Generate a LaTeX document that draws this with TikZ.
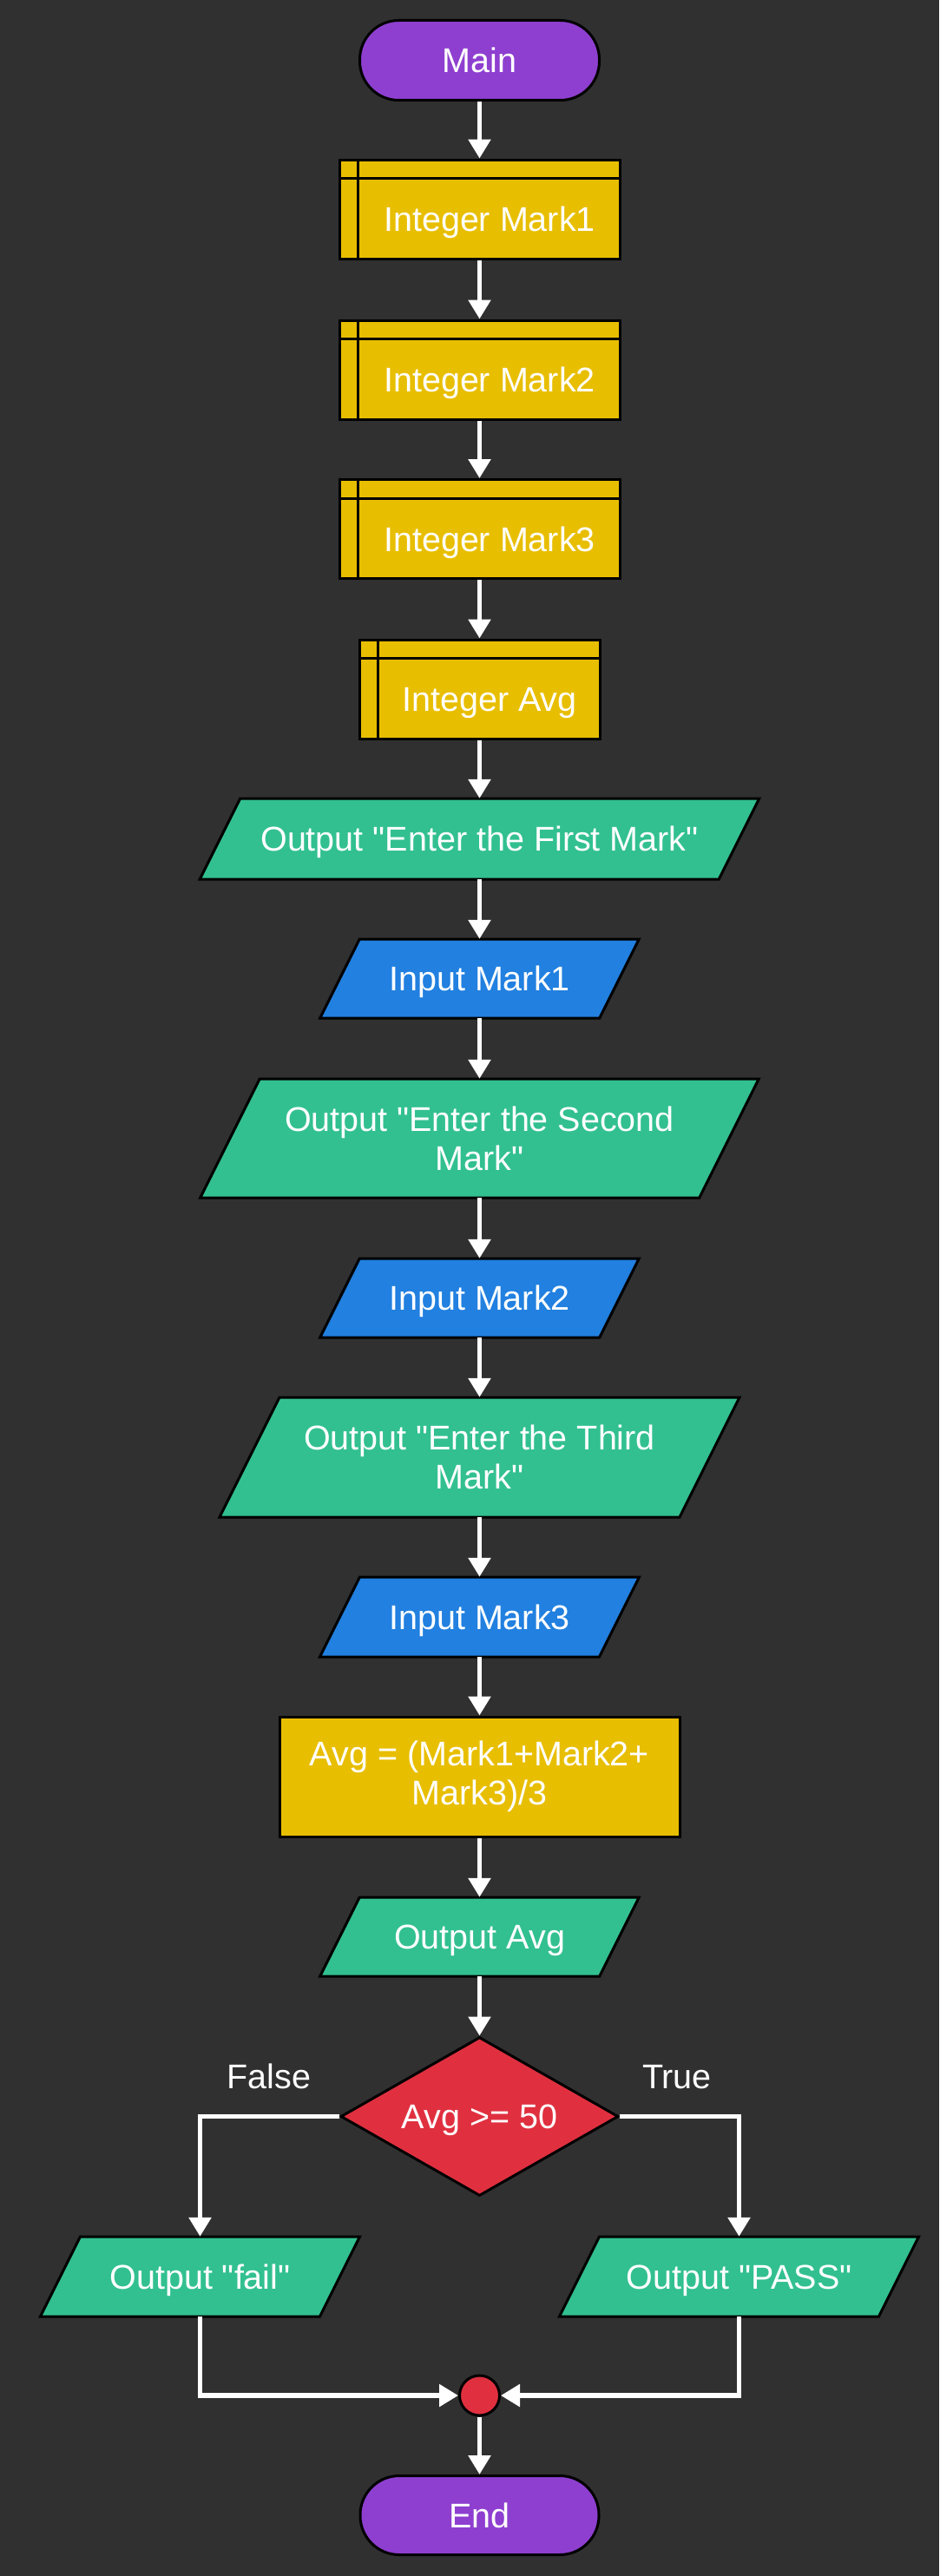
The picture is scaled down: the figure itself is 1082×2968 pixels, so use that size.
\documentclass[tikz,border=0pt]{standalone}
\usepackage{fontspec}
\setmainfont{Liberation Sans}[Ligatures=TeXOff]
\usetikzlibrary{arrows.meta,shapes.geometric}
\definecolor{bgc}{RGB}{48,48,48}
\definecolor{termc}{RGB}{142,63,208}
\definecolor{declc}{RGB}{232,190,0}
\definecolor{outc}{RGB}{50,192,144}
\definecolor{inc}{RGB}{33,128,224}
\definecolor{decc}{RGB}{224,48,64}
\tikzset{
  border/.style={draw=black, line width=3pt},
  txt/.style={text=white, font=\fontsize{39.5}{45}\selectfont, inner sep=0pt, text height=28.2pt, text depth=0pt},
  txtml/.style={text=white, font=\fontsize{39.5}{45}\selectfont, inner sep=0pt, align=center},
  term/.style={border, fill=termc, rectangle, rounded corners=45pt, minimum width=276pt, minimum height=92pt, txt},
  declbox/.style={border, fill=declc, rectangle, minimum height=114pt},
  decline/.style={draw=black, line width=3pt},
  arr/.style={draw=white, line width=5.5pt, -{Triangle[width=25pt,length=22pt]}}
}
% name, cx, cy, w, h, colour, text
\newcommand\iopara[8][txt]{%
  \filldraw[border, fill=#7] (#3-#5/2+#6/4, #4-#6/2) -- (#3+#5/2+#6/4, #4-#6/2) -- (#3+#5/2-#6/4, #4+#6/2) -- (#3-#5/2-#6/4, #4+#6/2) -- cycle;
  \node[#1, minimum width=#5pt, minimum height=#6pt] (#2) at (#3,#4) {#8};
}
% name, cy, w, text
\newcommand\declnode[4]{%
  \node[declbox, minimum width=#3pt] (#1) at (552.5,#2) {};
  \draw[decline] ([xshift=23pt]#1.north west) -- ([xshift=23pt]#1.south west)
                 ([yshift=-23pt]#1.north west) -- ([yshift=-23pt]#1.north east);
  \node[txt] (#1t) at ([xshift=11.5pt,yshift=-11.5pt]#1.center) {#4};
}
\begin{document}
\begin{tikzpicture}[x=1pt,y=-1pt]
\fill[bgc] (0,0) rectangle (1082,2968);
\useasboundingbox (0,0) rectangle (1082,2968);

\node[term] (main) at (552.5,69.5) {Main};
\declnode{ma}{241}{323}{Integer Mark1}
\declnode{mb}{426}{323}{Integer Mark2}
\declnode{mc}{609.5}{323}{Integer Mark3}
\declnode{md}{794}{277}{Integer Avg}

\iopara{o1}{552.5}{966.5}{598}{93}{outc}{Output "Enter the First Mark"}
\iopara{i1}{552.5}{1127.5}{322}{91}{inc}{Input Mark1}
\iopara[txtml]{o2}{552.5}{1311.5}{575}{137}{outc}{Output "Enter the Second\\Mark"}
\iopara{i2}{552.5}{1495.5}{322}{91}{inc}{Input Mark2}
\iopara[txtml]{o3}{552.5}{1679}{530}{138}{outc}{Output "Enter the Third\\Mark"}
\iopara{i3}{552.5}{1863}{322}{92}{inc}{Input Mark3}

\node[border, fill=declc, rectangle, minimum width=461pt, minimum height=138pt, txtml] (calc) at (552.5,2047) {Avg = (Mark1+Mark2+\\Mark3)/3};

\iopara{oa}{552.5}{2231.5}{322}{91}{outc}{Output Avg}

\node[border, fill=decc, diamond, aspect=1.75, minimum width=320pt, minimum height=183pt, txt] (dec) at (552.5,2438.5) {Avg >= 50};
\node[txt] (lf) at (310,2392) {False};
\node[txt] (lt) at (780,2392) {True};

\iopara{fail}{230.5}{2623}{322}{92}{outc}{Output "fail"}
\iopara{pass}{851.5}{2623}{368}{92}{outc}{Output "PASS"}

\node[border, fill=decc, circle, minimum size=46pt, inner sep=0pt] (merge) at (552.5,2760) {};
\node[term, minimum width=275pt, minimum height=91pt] (end) at (552.5,2898) {End};

\draw[arr] (main) -- (ma);
\draw[arr] (ma) -- (mb);
\draw[arr] (mb) -- (mc);
\draw[arr] (mc) -- (md);
\draw[arr] (md) -- (o1);
\draw[arr] (o1) -- (i1);
\draw[arr] (i1) -- (o2);
\draw[arr] (o2) -- (i2);
\draw[arr] (i2) -- (o3);
\draw[arr] (o3) -- (i3);
\draw[arr] (i3) -- (calc);
\draw[arr] (calc) -- (oa);
\draw[arr] (oa) -- (dec);
\draw[arr] (dec.west) -| (fail.north);
\draw[arr] (dec.east) -| (pass.north);
\draw[arr] (fail.south) |- (merge.west);
\draw[arr] (pass.south) |- (merge.east);
\draw[arr] (merge) -- (end);
\end{tikzpicture}
\end{document}
